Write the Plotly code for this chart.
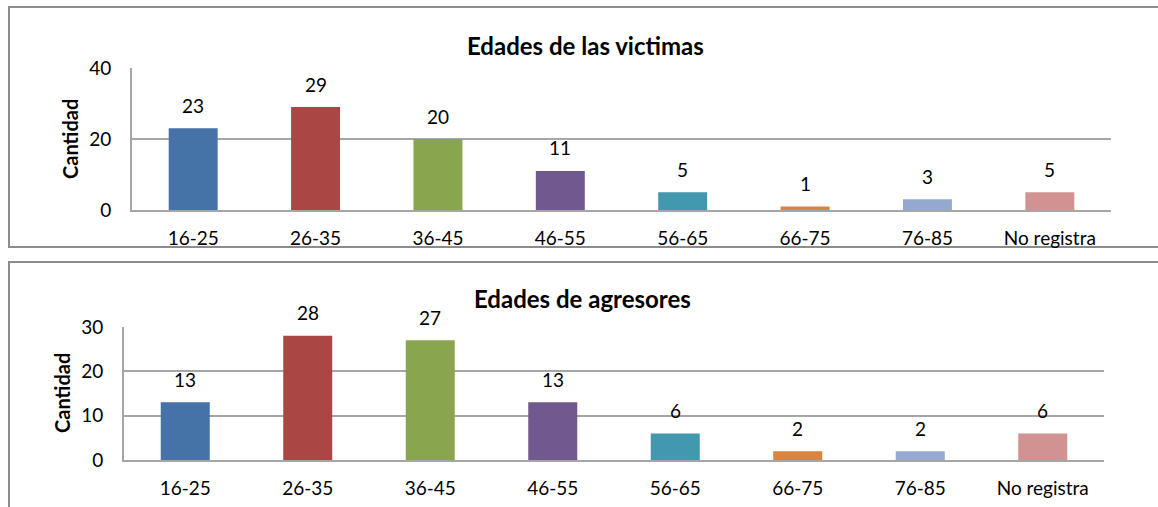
import plotly.graph_objects as go

categories = ["16-25", "26-35", "36-45", "46-55", "56-65", "66-75", "76-85", "No registra"]
victimas = [23, 29, 20, 11, 5, 1, 3, 5]
agresores = [13, 28, 27, 13, 6, 2, 2, 6]
bar_colors = ["#4572A7", "#AA4643", "#89A54E", "#71588F", "#4198AF", "#DB843D", "#93A9CF", "#D19392"]
title_top = "Edades de las victimas"
title_bottom = "Edades de agresores"
y_title = "Cantidad"

W, H = 1158, 507
FONT = "Lato"
GRID = "#A6A6A6"
BORDER = "#8C8C8C"


def px(x):
    return x / W


def py(y):
    return 1 - y / H


fig = go.Figure()
fig.add_trace(go.Bar(x=categories, y=victimas, marker_color=bar_colors,
                     marker_line_width=0, xaxis="x", yaxis="y", showlegend=False))
fig.add_trace(go.Bar(x=categories, y=agresores, marker_color=bar_colors,
                     marker_line_width=0, xaxis="x2", yaxis="y2", showlegend=False))

annotations = []
for c, v in zip(categories, victimas):
    annotations.append(dict(x=c, y=v, xref="x", yref="y", text=str(v), showarrow=False,
                            yanchor="middle", yshift=23, font=dict(family=FONT, size=19, color="#000")))
for c, v in zip(categories, agresores):
    annotations.append(dict(x=c, y=v, xref="x2", yref="y2", text=str(v), showarrow=False,
                            yanchor="middle", yshift=23, font=dict(family=FONT, size=19, color="#000")))

annotations += [
    dict(x=px(585), y=py(45), xref="paper", yref="paper", text="<b>%s</b>" % title_top, showarrow=False,
         xanchor="center", yanchor="middle", font=dict(family=FONT, size=24, color="#000")),
    dict(x=px(582), y=py(298), xref="paper", yref="paper", text="<b>%s</b>" % title_bottom, showarrow=False,
         xanchor="center", yanchor="middle", font=dict(family=FONT, size=24, color="#000")),
    dict(x=px(70), y=py(139), xref="paper", yref="paper", text="<b>%s</b>" % y_title, showarrow=False,
         textangle=-90, xanchor="center", yanchor="middle", font=dict(family=FONT, size=20, color="#000")),
    dict(x=px(62), y=py(393), xref="paper", yref="paper", text="<b>%s</b>" % y_title, showarrow=False,
         textangle=-90, xanchor="center", yanchor="middle", font=dict(family=FONT, size=20, color="#000")),
]

shapes = [
    dict(type="rect", xref="paper", yref="paper", x0=px(9), x1=px(1170), y0=py(247), y1=py(7),
         line=dict(color=BORDER, width=2), fillcolor="rgba(0,0,0,0)", layer="below"),
    dict(type="rect", xref="paper", yref="paper", x0=px(9), x1=px(1170), y0=py(520), y1=py(262),
         line=dict(color=BORDER, width=2), fillcolor="rgba(0,0,0,0)", layer="below"),
]

xcommon = dict(type="category", showgrid=False, showline=True, linecolor=GRID, linewidth=2,
               ticks="", ticklabelstandoff=10, tickfont=dict(family=FONT, size=19, color="#000"),
               fixedrange=True, automargin=False)
ycommon = dict(showgrid=True, gridcolor=GRID, gridwidth=2, showline=True, linecolor=GRID, linewidth=2,
               zeroline=False, ticks="", ticklabelstandoff=15,
               tickfont=dict(family=FONT, size=19, color="#000"), fixedrange=True, automargin=False)

fig.update_layout(
    template="none",
    width=W, height=H,
    margin=dict(l=0, r=0, t=0, b=0, pad=0, autoexpand=False),
    paper_bgcolor="white", plot_bgcolor="white",
    bargap=0.6,
    xaxis=dict(domain=[px(132), px(1111)], anchor="y", **xcommon),
    yaxis=dict(domain=[py(210), py(68)], anchor="x", range=[0, 40], dtick=20, **ycommon),
    xaxis2=dict(domain=[px(124), px(1104)], anchor="y2", **xcommon),
    yaxis2=dict(domain=[py(460), py(327)], anchor="x2", range=[0, 30], dtick=10, **ycommon),
    annotations=annotations,
    shapes=shapes,
)

fig.write_html("out.html", config={"displayModeBar": False},
               post_script="document.body.style.margin='0';document.body.style.overflow='hidden';")
